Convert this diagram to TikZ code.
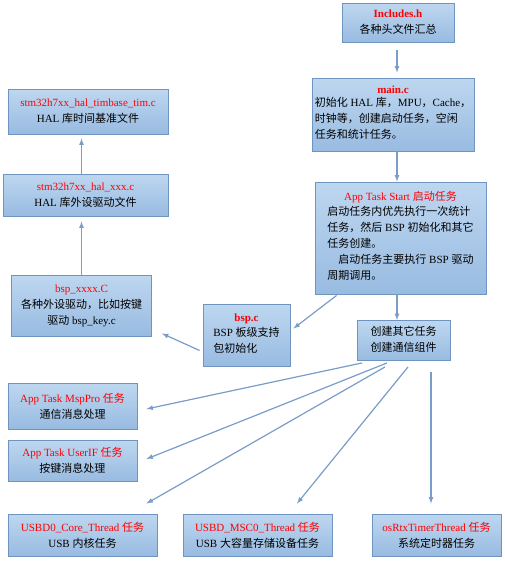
\documentclass[tikz,border=0pt]{standalone}
\usepackage{fontspec}
\setmainfont{Liberation Serif}
\newfontfamily\cjkfont{Noto Sans CJK SC}
\newcommand{\zhtext}[1]{{\cjkfont #1}}
\usepackage{xcolor}
\usetikzlibrary{arrows,calc,positioning}
\definecolor{boxtop}{RGB}{190,215,240}
\definecolor{boxbot}{RGB}{152,187,225}
\definecolor{boxline}{RGB}{112,148,192}
\definecolor{arrowline}{RGB}{122,156,200}
\tikzset{%
	box/.style   = {draw=boxline, line width=0.9pt, rectangle, top color=boxtop, bottom color=boxbot, align=center, inner sep=2pt, font=\fontsize{11}{16}\selectfont},
	arrow/.style = {draw=arrowline, line width=1.2pt, -latex},
}
\newcommand{\ttl}[1]{\textcolor{red}{#1}}
\newcommand{\bttl}[1]{\textcolor{red}{\bfseries #1}}

\begin{document}
\begin{tikzpicture}[x=1pt,y=-1pt]
	\useasboundingbox (0,0) rectangle (504,562);
	% right column
	\node [box, minimum width=112pt, minimum height=39pt] (inc) at (398,22.5) {\bttl{Includes.h}\\ \zhtext{各种头文件汇总}};
	\node [box, minimum width=162pt, minimum height=73pt] (main) at (393,114.5) {\bttl{main.c}\\
		\begin{tabular}{@{}l@{}}
			\zhtext{初始化} HAL \zhtext{库，}MPU\zhtext{，}Cache\zhtext{，}\\
			\zhtext{时钟等，创建启动任务，空闲}\\
			\zhtext{任务和统计任务。}
		\end{tabular}};
	\node [box, minimum width=171pt, minimum height=112pt] (start) at (400.5,238) {\ttl{App Task Start \zhtext{启动任务}}\\
		\begin{tabular}{@{}l@{}}
			\zhtext{启动任务内优先执行一次统计}\\
			\zhtext{任务，然后} BSP \zhtext{初始化和其它}\\
			\zhtext{任务创建。}\\
			\hspace{1em}\zhtext{启动任务主要执行} BSP \zhtext{驱动}\\
			\zhtext{周期调用。}
		\end{tabular}};
	\node [box, minimum width=93pt, minimum height=40pt] (create) at (403.5,340.5) {\begin{tabular}{@{}l@{}}
			\zhtext{创建其它任务}\\
			\zhtext{创建通信组件}
		\end{tabular}};
	% left column
	\node [box, minimum width=87pt, minimum height=62pt] (bsp) at (246.5,335.5) {\bttl{bsp.c}\\
		\begin{tabular}{@{}l@{}}
			BSP \zhtext{板级支持}\\
			\zhtext{包初始化}
		\end{tabular}};
	\node [box, minimum width=140pt, minimum height=61pt] (bspx) at (81.5,305.5) {\ttl{bsp\_xxxx.C}\\ \zhtext{各种外设驱动，比如按键}\\ \zhtext{驱动} bsp\_key.c};
	\node [box, minimum width=165pt, minimum height=42pt] (halx) at (85.5,195) {\ttl{stm32h7xx\_hal\_xxx.c}\\ HAL \zhtext{库外设驱动文件}};
	\node [box, minimum width=160pt, minimum height=45pt] (timb) at (88,111.5) {\ttl{stm32h7xx\_hal\_timbase\_tim.c}\\ HAL \zhtext{库时间基准文件}};
	% tasks
	\node [box, minimum width=129pt, minimum height=46pt] (msp) at (72.5,406) {\ttl{App Task MspPro \zhtext{任务}}\\ \zhtext{通信消息处理}};
	\node [box, minimum width=129pt, minimum height=41pt] (uif) at (72.5,460.5) {\ttl{App Task UserIF \zhtext{任务}}\\ \zhtext{按键消息处理}};
	\node [box, minimum width=149pt, minimum height=42pt] (core) at (82.5,535) {\ttl{USBD0\_Core\_Thread \zhtext{任务}}\\ USB \zhtext{内核任务}};
	\node [box, minimum width=149pt, minimum height=42pt] (msc) at (257.5,535) {\ttl{USBD\_MSC0\_Thread \zhtext{任务}}\\ USB \zhtext{大容量存储设备任务}};
	\node [box, minimum width=129pt, minimum height=42pt] (rtx) at (436.5,535) {\ttl{osRtxTimerThread \zhtext{任务}}\\ \zhtext{系统定时器任务}};

	\draw [arrow, shorten <=8pt, shorten >=5pt] ([xshift=-1pt]inc.south) -- ([xshift=-1pt]inc.south |- main.north);
	\draw [arrow] ([xshift=-1pt]inc.south |- main.south) -- ([xshift=-1pt]inc.south |- start.north);
	\draw [arrow] ([xshift=-1pt]inc.south |- start.south) -- ([xshift=-1pt]inc.south |- create.north);
	\draw [arrow] ([xshift=22pt,yshift=-1pt]start.south west) -- ([xshift=3pt,yshift=7pt]bsp.east);
	\draw [arrow] ([xshift=-3pt,yshift=-15pt]bsp.west) -- ([xshift=10pt,yshift=3pt]bspx.south east);
	\draw [arrow] (bspx.north) -- ([yshift=-5pt]bspx.north |- halx.south);
	\draw [arrow] (bspx.north |- halx.north) -- ([yshift=-4pt]bspx.north |- timb.south);
	\draw [arrow] ([xshift=-41.5pt,yshift=-2pt]create.south) -- ([xshift=9pt,yshift=-3pt]msp.east);
	\draw [arrow] ([xshift=-16.5pt,yshift=-2pt]create.south) -- ([xshift=9pt,yshift=1.5pt]uif.east);
	\draw [arrow] ([xshift=-18.5pt,yshift=-6pt]create.south) -- ([xshift=-11pt,yshift=10pt]core.north east);
	\draw [arrow] ([xshift=4.5pt,yshift=-6pt]create.south) -- ([xshift=39.5pt,yshift=10pt]msc.north);
	\draw [arrow] ([xshift=27.5pt,yshift=-11pt]create.south) -- ([xshift=-5.5pt,yshift=10pt]rtx.north);
\end{tikzpicture}
\end{document}
